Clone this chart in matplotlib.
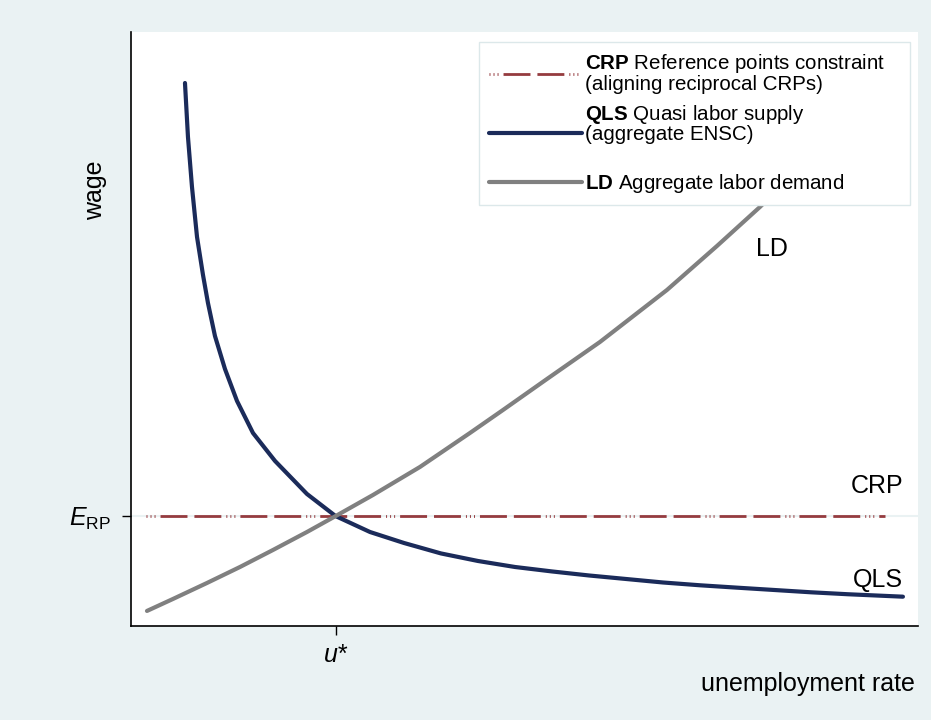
import matplotlib.pyplot as plt

plt.rcParams['font.family'] = ['Liberation Sans', 'DejaVu Sans']
plt.rcParams['mathtext.fontset'] = 'custom'
plt.rcParams['mathtext.rm'] = 'Liberation Sans'
plt.rcParams['mathtext.it'] = 'Liberation Sans:italic'
plt.rcParams['mathtext.bf'] = 'Liberation Sans:bold'
plt.rcParams['lines.scale_dashes'] = False

# equilibrium point
u_star = 26.0
e_rp = 18.5

# quasi labor supply (aggregate ENSC)
qls_x = [6.86, 7.24, 7.75, 8.39, 9.15, 9.78, 10.67, 11.94, 13.47, 15.50, 18.30,
         22.36, 26.0, 30.37, 34.69, 39.39, 44.09, 48.79, 53.49, 58.20, 62.90,
         67.60, 72.30, 77.00, 81.70, 86.40, 91.11, 98.09]
qls_y = [91.41, 82.32, 73.91, 65.49, 59.09, 54.38, 48.82, 43.27, 37.88, 32.49, 27.78,
         22.22, 18.5, 15.82, 13.97, 12.21, 10.94, 9.93, 9.18, 8.50, 7.91,
         7.32, 6.85, 6.45, 6.06, 5.67, 5.34, 4.93]

# aggregate labor demand
ld_x = [2.03, 5.34, 9.66, 13.85, 18.04, 22.36, 26.0, 30.75, 36.72, 43.07, 47.27,
        52.86, 59.59, 68.11, 74.46, 79.92, 85.01, 90.09]
ld_y = [2.53, 4.55, 7.24, 9.93, 12.79, 15.82, 18.5, 22.05, 26.77, 32.49, 36.36,
        41.58, 47.81, 56.57, 63.97, 70.54, 77.10, 83.84]

# reference points constraint
crp_x = [1.9, 95.8]
crp_y = [e_rp, e_rp]

bg = '#EAF2F3'
fig = plt.figure(figsize=(9.31, 7.2), dpi=100, facecolor=bg)
ax = fig.add_axes([0.1407, 0.1306, 0.8453, 0.825])
ax.set_facecolor('white')

ax.plot(crp_x, crp_y, color='#953B3F', lw=2.0,
        dashes=[0.7, 2.2, 0.7, 2.2, 0.7, 3.6, 19.4, 5.0, 19.4, 3.6],
        label='$\\mathbf{CRP}$ Reference points constraint\n(aligning reciprocal CRPs)')
ax.plot(qls_x, qls_y, color='#1B2B5A', lw=3.0, solid_capstyle='round',
        solid_joinstyle='round',
        label='$\\mathbf{QLS}$ Quasi labor supply\n(aggregate ENSC)\n ')
ax.plot(ld_x, ld_y, color='#808080', lw=3.0, solid_capstyle='round',
        solid_joinstyle='round',
        label='$\\mathbf{LD}$ Aggregate labor demand')

ax.set_xlim(0, 100)
ax.set_ylim(0, 100)

ax.set_xticks([u_star])
ax.set_xticklabels(['u*'], fontstyle='italic')
ax.set_yticks([e_rp])
ax.set_yticklabels(['$\\mathit{E}_{\\mathrm{RP}}$'])
ax.tick_params(length=6.5, width=1, labelsize=18)
ax.tick_params(axis='x', pad=6)
ax.tick_params(axis='y', pad=8)
ax.yaxis.grid(True, color=bg, lw=1.5, zorder=0)
ax.set_axisbelow(True)

for side in ['top', 'right']:
    ax.spines[side].set_visible(False)
for side in ['left', 'bottom']:
    ax.spines[side].set_linewidth(1.2)

ax.text(81.4, 63.5, 'LD', fontsize=18, ha='center', va='center')
ax.text(98.1, 23.6, 'CRP', fontsize=18, ha='right', va='center')
ax.text(98.1, 7.7, 'QLS', fontsize=18, ha='right', va='center')

fig.text(95 / 931, 1 - 190 / 720, 'wage', fontsize=18, rotation=90,
         ha='center', va='center')
fig.text(915 / 931, 1 - 684 / 720, 'unemployment rate', fontsize=18,
         ha='right', va='center')

leg = ax.legend(loc='upper left',
                bbox_to_anchor=(479 / 931, 1 - 206 / 720, 431 / 931, 164 / 720),
                bbox_transform=fig.transFigure, mode='expand', borderaxespad=0,
                fontsize=14.8, handlelength=4.5, handletextpad=0.15,
                labelspacing=0.4, borderpad=0.5, fancybox=False,
                framealpha=1, edgecolor='#DCE8EA')
leg.get_frame().set_linewidth(1)
for t in leg.get_texts():
    t.set_linespacing(1.0)

fig.savefig('out.png', dpi=100, facecolor=bg)
